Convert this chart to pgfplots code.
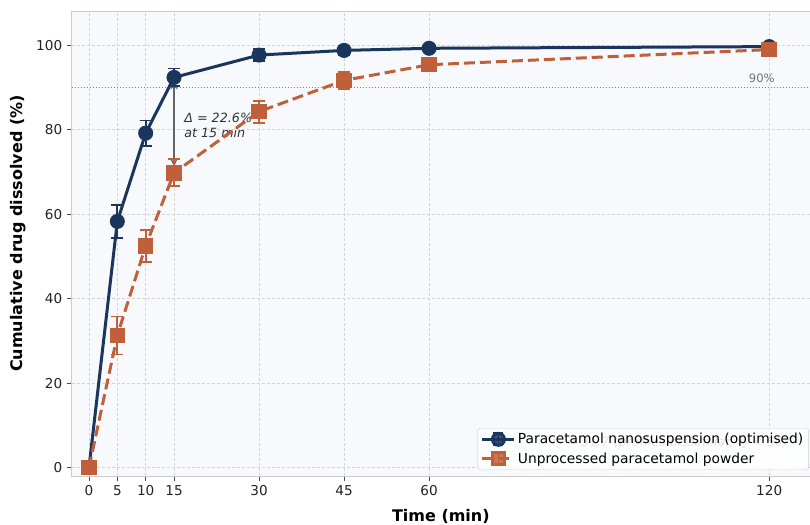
\documentclass[border=0pt]{standalone}
\usepackage{fontspec}
\setmainfont{DejaVu Sans}
\usepackage{pgfplots}
\pgfplotsset{compat=1.18}
\usetikzlibrary{arrows.meta,calc}
\definecolor{navy}{HTML}{1B365D}
\definecolor{rust}{HTML}{C0603A}
\definecolor{bgc}{HTML}{F7F9FC}
\definecolor{spine}{HTML}{CCCCCC}
\definecolor{gridc}{HTML}{D4D4D4}
\definecolor{txt}{HTML}{222222}
\begin{document}
\begin{tikzpicture}
\begin{axis}[
  scale only axis,
  width=738.3pt, height=464pt,
  xmin=-3.05, xmax=127.2,
  ymin=-2, ymax=107.9,
  xtick={0,5,10,15,30,45,60,120},
  ytick={0,20,40,60,80,100},
  tick align=outside, tick pos=left,
  major tick length=5pt,
  tick style={color=black!70, line width=0.8pt},
  axis line style={spine, line width=1pt},
  axis background/.style={fill=bgc},
  grid=major,
  grid style={gridc, dash pattern=on 3pt off 2pt, line width=0.6pt},
  /pgf/number format/assume math mode=true,
  tick label style={font=\fontsize{13.6}{16}\selectfont, color=txt},
  xticklabel style={yshift=-1pt},
  yticklabel style={xshift=-1pt},
  xlabel={Time (min)},
  ylabel={Cumulative drug dissolved (\%)},
  xlabel style={font=\fontsize{16}{19}\bfseries, at={(axis description cs:0.5,0)}, anchor=center, yshift=-40pt},
  ylabel style={font=\fontsize{16}{19}\bfseries, at={(axis description cs:-0.072,0.5226)}, anchor=center},
  legend style={at={(0.998,0.013)}, anchor=south east, draw=spine, fill=white, fill opacity=0.85, text opacity=1, draw opacity=1, rounded corners=2pt, font=\fontsize{13.8}{16}\selectfont, row sep=3.5pt, inner sep=3pt},
  legend cell align=left,
  legend image code/.code={
    \draw[#1, mark=none, solid, line width=1.8pt] (16pt,-6pt) -- (16pt,6pt) (11pt,-6pt) -- (21pt,-6pt) (11pt,6pt) -- (21pt,6pt);
    \draw[#1, mark repeat=2, mark phase=2] plot coordinates {(0pt,0pt) (16pt,0pt) (32pt,0pt)};
  },
]
% 90% reference line
\addplot[black!50, line width=1.2pt, dash pattern=on 1.2pt off 1.8pt, forget plot] coordinates {(-3.05,90) (127.2,90)};
\node[font=\fontsize{11.6}{14}\selectfont, text=black!55] at (axis cs:118.7,92.1) {90\%};
% f2 annotation (partly hidden by legend)
\node[font=\fontsize{12.7}{15}\selectfont\itshape, text=black!70, fill=white, draw=spine, rounded corners=3pt, inner sep=3pt] at (axis cs:102.5,5.9) {f\textsubscript{2} = 31.7 (profiles dissimilar, f\textsubscript{2} < 50)};
% delta arrow
\draw[{Stealth[length=8pt,width=7pt]}-{Stealth[length=8pt,width=7pt]}, black!60, line width=1.6pt, shorten <=4pt, shorten >=6pt] (axis cs:15,92.4) -- (axis cs:15,69.8);
\node[font=\fontsize{12.7}{15.5}\selectfont\itshape, text=black!80, anchor=west, align=left] at (axis cs:16.2,81.1) {Δ = 22.6\%\\at 15 min};

\addplot[navy, line width=3pt, mark=*, mark size=6pt, mark options={solid, fill=navy, draw=navy},
  error bars/.cd, y dir=both, y explicit,
  error bar style={line width=1.8pt, solid, navy},
  error mark options={rotate=90, mark size=6pt, line width=1.8pt, navy}]
  coordinates {
  (0,0) +- (0,0)
  (5,58.3) +- (0,3.9)
  (10,79.2) +- (0,3.0)
  (15,92.4) +- (0,2.1)
  (30,97.7) +- (0,1.5)
  (45,98.8) +- (0,1.0)
  (60,99.3) +- (0,0.8)
  (120,99.7) +- (0,0.5)
  };
\addlegendentry{Paracetamol nanosuspension (optimised)}

\addplot[rust, line width=3pt, dash pattern=on 11pt off 5pt, mark=square*, mark size=6.2pt, mark options={solid, fill=rust, draw=rust},
  error bars/.cd, y dir=both, y explicit,
  error bar style={line width=1.8pt, solid, rust},
  error mark options={rotate=90, mark size=6pt, line width=1.8pt, rust}]
  coordinates {
  (0,0) +- (0,0)
  (5,31.3) +- (0,4.5)
  (10,52.5) +- (0,3.8)
  (15,69.8) +- (0,3.2)
  (30,84.3) +- (0,2.6)
  (45,91.7) +- (0,2.0)
  (60,95.4) +- (0,1.3)
  (120,99.0) +- (0,0.8)
  };
\addlegendentry{Unprocessed paracetamol powder}
\end{axis}
\pgfresetboundingbox
\path[use as bounding box] ($(current axis.south west)+(-71.7pt,-48pt)$) rectangle ($(current axis.north east)+(0pt,12pt)$);
\end{tikzpicture}
\end{document}
